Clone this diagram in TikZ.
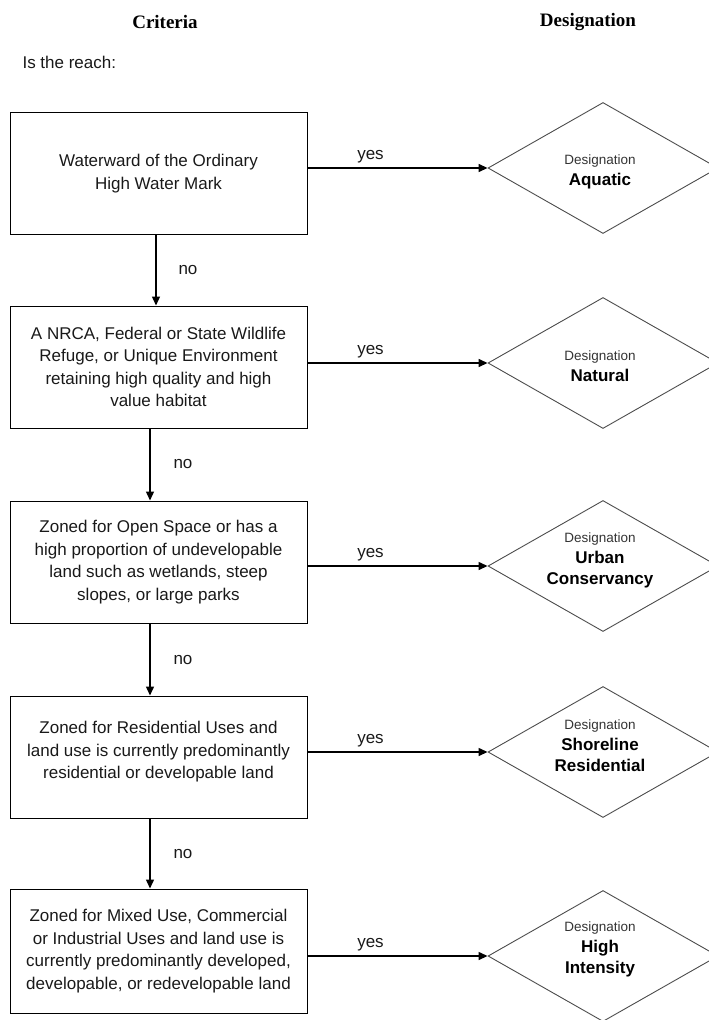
\documentclass[tikz,border=0pt]{standalone}
\usepackage{fontspec}
\setmainfont{Liberation Sans}
\newfontfamily\hdrfont{Liberation Serif}
\usetikzlibrary{shapes.geometric,arrows.meta,calc}
\begin{document}
\begin{tikzpicture}[x=1pt,y=-1pt,
  crit/.style={draw=black, line width=1pt, minimum width=297pt, minimum height=122pt,
    align=center, inner sep=0pt, font=\fontsize{17}{22.5}\selectfont, text=black!90},
  crittext/.style={align=center, inner sep=0pt, font=\fontsize{17}{22.5}\selectfont, text=black!90},
  desig/.style={diamond, draw=black!70, line width=0.9pt, minimum width=230pt,
    minimum height=131pt, inner sep=0pt},
  dtext/.style={align=center, inner sep=0pt, text=black, font=\fontsize{17}{21}\selectfont},
  flow/.style={line width=1.4pt, -{Triangle[length=9pt,width=8pt]}},
  lbl/.style={font=\fontsize{17}{20}\selectfont, text=black!90},
  hdr/.style={font=\hdrfont\bfseries\fontsize{19}{22}\selectfont}]
\useasboundingbox (0,0) rectangle (709,1020);
\clip (0,0) rectangle (709,1020);

\newcommand{\dsg}{{\fontsize{13.5}{16}\selectfont\color{black!80}Designation}}
\newcommand{\dbold}{\bfseries}

% headers
\node[hdr] (h1) at (165,22) {Criteria};
\node[hdr] (h2) at (588,22) {Designation};
\node[lbl, anchor=west] (reach) at (19,62) {Is the reach:};

% criteria boxes
\node[crit] (c1) at (158.5,173.5) {Waterward of the Ordinary\\High Water Mark};
\node[crit] (c2) at (158.5,367) {A NRCA, Federal or State Wildlife\\Refuge, or Unique Environment\\retaining high quality and high\\value habitat};
\node[crit] (c3) at (158.5,562) {Zoned for Open Space or has a\\high proportion of undevelopable\\land such as wetlands, steep\\slopes, or large parks};
\node[crit] (c4) at (158.5,757) {};
\node[crittext] (c4t) at (158.5,752) {Zoned for Residential Uses and\\land use is currently predominantly\\residential or developable land};
\node[crit, minimum height=124pt] (c5) at (158.5,951) {Zoned for Mixed Use, Commercial\\or Industrial Uses and land use is\\currently predominantly developed,\\developable, or redevelopable land};

% designation diamonds
\node[desig] (d1) at (603,168) {};
\node[desig] (d2) at (603,363) {};
\node[desig] (d3) at (603,566) {};
\node[desig] (d4) at (603,752) {};
\node[desig] (d5) at (603,956) {};
\node[dtext] (t1) at (600,172) {\dsg\\{\dbold Aquatic}};
\node[dtext] (t2) at (600,366) {\dsg\\{\dbold Natural}};
\node[dtext] (t3) at (600,560) {\dsg\\{\dbold Urban}\\{\dbold Conservancy}};
\node[dtext] (t4) at (600,746) {\dsg\\{\dbold Shoreline}\\{\dbold Residential}};
\node[dtext] (t5) at (600,949) {\dsg\\{\dbold High}\\{\dbold Intensity}};

% vertical "no" connectors
\coordinate (xa) at (156,0);
\coordinate (xb) at (150,0);
\draw[flow] (c1.south -| xa) -- node[lbl, xshift=32pt] {no} (c2.north -| xa);
\draw[flow] (c2.south -| xb) -- node[lbl, xshift=33pt] {no} (c3.north -| xb);
\draw[flow] (c3.south -| xb) -- node[lbl, xshift=33pt] {no} (c4.north -| xb);
\draw[flow] (c4.south -| xb) -- node[lbl, xshift=33pt] {no} (c5.north -| xb);

% horizontal "yes" connectors
\draw[flow] (d1.west -| c1.east) -- node[lbl, pos=0.35, yshift=11pt] {yes} (d1.west);
\draw[flow] (d2.west -| c2.east) -- node[lbl, pos=0.35, yshift=11pt] {yes} (d2.west);
\draw[flow] (d3.west -| c3.east) -- node[lbl, pos=0.35, yshift=11pt] {yes} (d3.west);
\draw[flow] (d4.west -| c4.east) -- node[lbl, pos=0.35, yshift=11pt] {yes} (d4.west);
\draw[flow] (d5.west -| c5.east) -- node[lbl, pos=0.35, yshift=11pt] {yes} (d5.west);
\end{tikzpicture}
\end{document}
